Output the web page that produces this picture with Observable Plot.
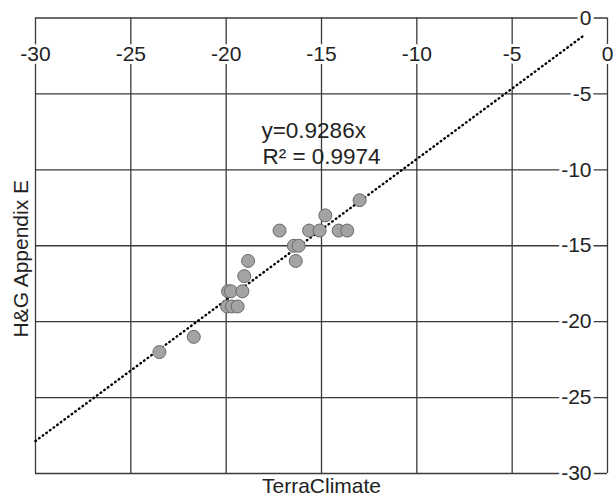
<!DOCTYPE html>
<html>
<head>
<meta charset="utf-8">
<script src="https://cdn.jsdelivr.net/npm/d3@7"></script>
<script src="https://cdn.jsdelivr.net/npm/@observablehq/plot@0.6"></script>
<style>
  html, body { margin: 0; padding: 0; background: #fff; }
</style>
</head>
<body>
<div id="chart"></div>
<script>
// TerraClimate (x) vs H&G Appendix E (y)
const terraClimate = [-23.5, -21.7, -19.95, -19.7, -19.4, -19.9, -19.75, -19.15, -19.05, -18.85,
                      -17.2, -16.45, -16.2, -16.35, -15.65, -15.1, -14.1, -13.65, -14.8, -13.0];
const hgAppendixE  = [-22, -21, -19, -19, -19, -18, -18, -18, -17, -16,
                      -14, -15, -15, -16, -14, -14, -14, -14, -13, -12];
const xTicks = [-30, -25, -20, -15, -10, -5, 0];
const yTicks = [0, -5, -10, -15, -20, -25, -30];
const slope = 0.9286;
const rSquared = 0.9974;
const trendX = [-30, -1.25];

const points = terraClimate.map((x, i) => ({x, y: hgAppendixE[i]}));
const trend = trendX.map(x => ({x, y: slope * x}));

const ink = "#222";
const gridColor = "#3a3a3a";

const chart = Plot.plot({
  width: 615,
  height: 503,
  marginLeft: 35,
  marginRight: 8,
  marginTop: 17.5,
  marginBottom: 30,
  x: {domain: [-30, 0], axis: null},
  y: {domain: [-30, 0], axis: null},
  style: {fontFamily: "Liberation Sans, Arial, sans-serif", fontSize: "21px", color: ink, background: "white"},
  marks: [
    Plot.ruleX(xTicks, {x: d => d, stroke: gridColor, strokeWidth: 1.3}),
    Plot.ruleY(yTicks, {y: d => d, stroke: gridColor, strokeWidth: 1.3}),
    Plot.line(trend, {x: "x", y: "y", stroke: "#000", strokeWidth: 2.4, strokeDasharray: "0.6 3.9", strokeLinecap: "round"}),
    Plot.dot(points, {x: "x", y: "y", r: 6.5, fill: "#a3a3a3", stroke: "#6a6a6a", strokeWidth: 1}),
    Plot.text(xTicks, {x: d => d, frameAnchor: "top", dy: 28.5, text: d => String(d),
      fill: ink, stroke: "white", strokeWidth: 6, textAnchor: "middle"}),
    Plot.text(yTicks, {y: d => d, frameAnchor: "right", dx: -16, text: d => String(d),
      fill: ink, stroke: "white", strokeWidth: 6, textAnchor: "end"}),
    Plot.text([`y=${slope}x`], {x: -18.15, y: -7.45, text: d => d, textAnchor: "start", fill: ink, fontSize: 22.5}),
    Plot.text([`R² = ${rSquared}`], {x: -18.1, y: -9.17, text: d => d, textAnchor: "start", fill: ink, fontSize: 22.5}),
    Plot.text(["TerraClimate"], {frameAnchor: "bottom", dy: 19, text: d => d, fill: ink, textAnchor: "middle"}),
    Plot.text(["H&G Appendix E"], {frameAnchor: "left", dx: -14, dy: 13, rotate: -90, text: d => d, fill: ink, textAnchor: "middle"})
  ]
});
document.getElementById("chart").appendChild(chart);
</script>
</body>
</html>
